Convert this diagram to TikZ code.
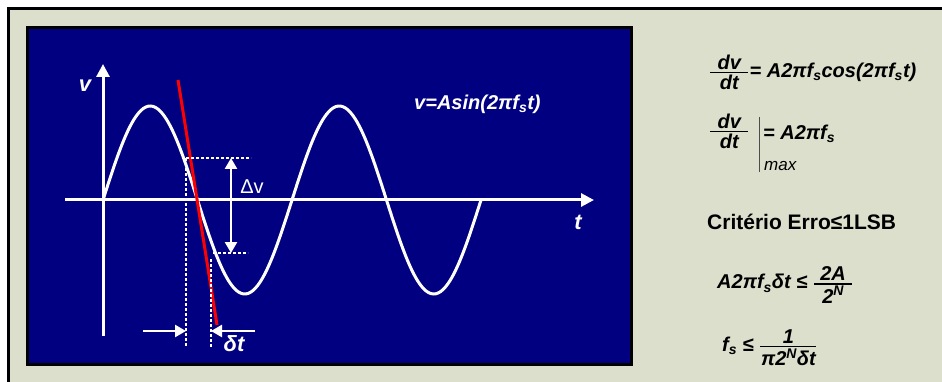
\documentclass[tikz,border=0pt]{standalone}
\usepackage{amsmath}
\usepackage{fontspec}
\setmainfont{Liberation Sans}
\usetikzlibrary{arrows.meta}
\definecolor{PanelNavy}{HTML}{000080}
\definecolor{SlideSage}{HTML}{DCDFCC}
\newcommand{\slidefrac}[3]{$\genfrac{}{}{1.5pt}{1}{\makebox[#1]{#2}}{\makebox[#1]{#3}}$}

\begin{document}
\begin{tikzpicture}[
        x=1pt, y=-1pt,
        wave/.style={white, line width=3pt},
        axisarr/.style={white, line width=3pt, -{Triangle[length=13pt,width=13pt]}},
        markarr/.style={white, line width=2.5pt, -{Triangle[length=11pt,width=12pt]}},
        botharr/.style={white, line width=2.5pt, {Triangle[length=11pt,width=12pt]}-{Triangle[length=11pt,width=12pt]}},
        guide/.style={white, line width=1.3pt, dash pattern=on 3pt off 2pt},
        lbl/.style={white, inner sep=0pt, font=\fontsize{22}{24}\selectfont\bfseries\itshape},
        eq/.style={black, anchor=west, inner sep=0pt, font=\fontsize{20}{22}\selectfont\bfseries\itshape}
    ]
        \useasboundingbox (0,0) rectangle (942,382);
        \clip (0,0) rectangle (942,382);
        \fill[white] (0,0) rectangle (942,382);
        \draw[line width=3pt, fill=SlideSage] (8.5,8.5) rectangle (950,395);
        \draw[line width=3pt, fill=PanelNavy] (27.5,27.5) rectangle (631.5,364.5);

        \coordinate (vbot) at (103,336);
        \coordinate (vtop) at (103,64);
        \coordinate (tleft) at (65,200);
        \coordinate (tright) at (594,200);
        \coordinate (rtop) at (178,80);
        \coordinate (rbot) at (217,325);
        \coordinate (hi) at (186,158);
        \coordinate (lo) at (213,253);
        \coordinate (dvup) at (231,158);
        \coordinate (dvdn) at (231,253);

        \draw[axisarr] (vbot) -- (vtop);
        \draw[axisarr] (tleft) -- (tright);
        \draw[wave] plot[domain=0:378, samples=160, smooth] ({103+\x}, {200-94*sin(\x*1.904762)});
        \draw[red, line width=3pt] (rtop) -- (rbot);

        \draw[guide] (hi) -- ++(65,0);
        \draw[guide] (hi) -- (186,347);
        \draw[guide] (lo) -- ++(35,0);
        \draw[guide] (211,259) -- (211,347);
        \draw[botharr] (dvup) -- (dvdn);
        \draw[markarr] (143,331) -- (186,331);
        \draw[markarr] (255,331) -- (211,331);

        \node[lbl] (vlab) at (85,86) {v};
        \node[lbl] (tlab) at (578,222) {t};
        \node[lbl, font=\fontsize{20}{22}\selectfont] (dvlab) at (252,187) {Δv};
        \node[lbl, font=\fontsize{22}{24}\selectfont\bfseries\itshape] (dtlab) at (234,344) {δt};
        \node[lbl, anchor=west, font=\fontsize{20}{22}\selectfont\bfseries\itshape] (waveeq) at (414,104) {v=Asin(2πf\textsubscript{s}t)};

        \node[eq] (deriv) at (709,72) {\slidefrac{38pt}{dv}{dt}= A2πf\textsubscript{s}cos(2πf\textsubscript{s}t)};
        \node[eq] (peak) at (709,131) {\slidefrac{38pt}{dv}{dt}};
        \draw[black!70, line width=1pt] (759,117) -- (759,172);
        \node[eq] (peakval) at (763,134) {= A2πf\textsubscript{s}};
        \node[eq, font=\fontsize{17}{19}\selectfont\itshape] (maxlab) at (764,166) {max};
        \node[eq, font=\fontsize{21}{24}\selectfont\bfseries] (crit) at (707,222) {Critério Erro≤1LSB};
        \node[eq] (err) at (717,285) {A2πf\textsubscript{s}δt ≤ \slidefrac{38pt}{2A}{2\textsuperscript{N}}};
        \node[eq] (rate) at (722,348) {f\textsubscript{s} ≤ \slidefrac{56pt}{1}{π2\textsuperscript{N}δt}};
    \end{tikzpicture}
\end{document}
